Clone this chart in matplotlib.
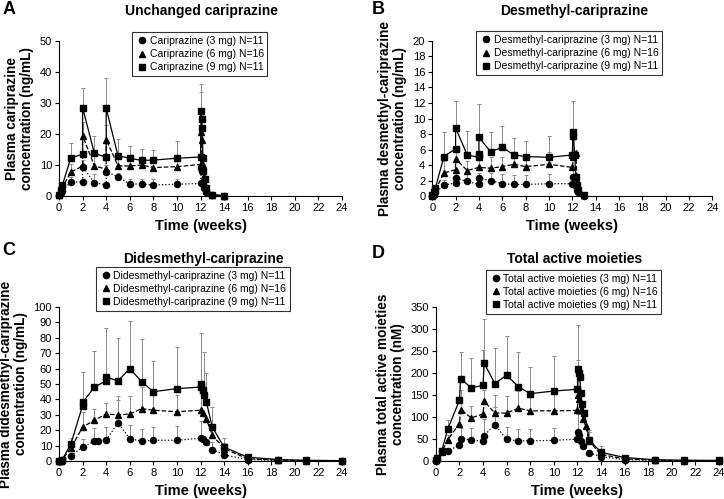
import numpy as np
import matplotlib
matplotlib.use('Agg')
from matplotlib import pyplot as plt
from matplotlib.lines import Line2D

plt.rcParams['font.family'] = ['Liberation Sans', 'DejaVu Sans']

# Panel A: unchanged cariprazine (ng/mL)
a_t9 = [0, 0.14, 0.28, 1, 2, 2, 3, 4, 4, 5, 6, 7, 8, 10, 12, 12.05, 12.1, 12.15, 12.2, 12.25, 12.4, 12.5, 13, 14]
a_y9 = [0.5, 2, 3.5, 12.3, 13.5, 28.5, 13.8, 12.5, 28.3, 13, 12.2, 11.5, 11.6, 12.2, 12.6, 27.5, 25, 22, 12.3, 8, 5.5, 2.5, 0.5, 0.1]
a_sd9 = [0, 0, 0, 4.9, 0, 6.3, 5.7, 0, 9.7, 5.5, 3.8, 3.8, 3.4, 5.6, 0, 8.5, 0, 0, 0, 0, 0, 0, 0, 0]
a_t6 = [0, 0.14, 0.28, 1, 2, 2, 3, 4, 4, 5, 6, 7, 8, 10, 12, 12.05, 12.1, 12.2, 12.3, 12.4, 12.5, 13, 14]
a_y6 = [0.3, 1.5, 2.8, 7.7, 9.7, 19.5, 9.7, 8.7, 18.2, 9.8, 9.7, 10, 9.2, 9.5, 10.2, 20.5, 18, 10, 6, 3.5, 1.8, 0.4, 0.1]
a_sd6 = [0, 0, 0, 2.8, 0, 4.5, 3.3, 0, 4.8, 2.7, 2.8, 2.5, 2.3, 2.5, 0, 13, 0, 0, 0, 0, 0, 0, 0]
a_t3 = [0, 0.14, 0.28, 1, 2, 2, 3, 4, 4, 5, 6, 7, 8, 10, 12, 12.05, 12.1, 12.2, 12.3, 12.5, 13, 14]
a_y3 = [0.2, 1, 1.8, 4.5, 4.6, 9.5, 4.3, 3.6, 7.9, 6.2, 3.9, 3.9, 3.6, 3.8, 4.1, 9, 8, 4, 2.5, 1.2, 0.3, 0.1]
a_sd3 = [0, 0, 0, 1.7, 0, 2, 2.7, 0, 2.1, 1.3, 1.6, 1.6, 1.9, 1.7, 0, 3, 0, 0, 0, 0, 0, 0]

# Panel B: desmethyl-cariprazine (ng/mL)
b_t9 = [0, 0.14, 0.28, 1, 2, 2, 3, 4, 4, 4, 5, 6, 7, 8, 10, 12, 12.05, 12.1, 12.2, 12.3, 12.4, 12.5, 13]
b_y9 = [0.1, 0.5, 1.1, 5.1, 6.1, 8.8, 5.3, 5.0, 5.4, 7.6, 5.7, 6.3, 5.3, 5.1, 5.0, 5.3, 8.3, 7.8, 5.3, 2.5, 1.4, 0.8, 0.1]
b_sd9 = [0, 0, 0, 3.1, 0, 3.4, 3.1, 0, 0, 4.3, 2.6, 2.7, 2.2, 2.0, 2.7, 0, 4.0, 0, 0, 0, 0, 0, 0]
b_t6 = [0, 0.14, 0.28, 1, 2, 2, 3, 4, 5, 6, 7, 8, 10, 12, 12.1, 12.3, 12.4, 12.5, 13]
b_y6 = [0.05, 0.3, 0.8, 3.0, 3.4, 4.8, 3.3, 3.7, 3.6, 3.8, 4.1, 3.8, 4.1, 3.7, 5.0, 5.5, 2.0, 0.8, 0.1]
b_sd6 = [0, 0, 0, 1.5, 0, 1.4, 1.2, 1.3, 1.4, 1.2, 1.2, 1.2, 1.6, 0, 2.2, 0, 0, 0, 0]
b_t3 = [0, 0.14, 0.28, 1, 2, 2, 3, 4, 4, 5, 6, 7, 8, 10, 12, 12.1, 12.3, 12.4, 12.5, 13]
b_y3 = [0.02, 0.15, 0.5, 1.4, 1.7, 2.3, 1.9, 1.5, 2.3, 2.0, 1.6, 1.5, 1.5, 1.6, 1.6, 2.4, 1.3, 0.8, 0.5, 0.05]
b_sd3 = [0, 0, 0, 0.7, 0, 1.2, 0.9, 0, 0.7, 1.0, 1.2, 1.2, 1.2, 1.2, 0, 1.0, 0, 0, 0, 0]

# Panel C: didesmethyl-cariprazine (ng/mL)
c_t9 = [0, 0.14, 0.28, 1, 2, 2, 3, 4, 4, 5, 6, 7, 8, 10, 12, 12.05, 12.2, 12.3, 12.5, 13, 14, 16, 18.6, 20.9, 24]
c_y9 = [0, 0.3, 1, 11, 36, 38, 48, 52, 54.5, 52, 60, 51.5, 45, 47, 48, 50, 46, 43, 38, 22, 9, 2.5, 1, 0.5, 0.3]
c_sd9 = [0, 0, 0, 4, 0, 19.5, 23.5, 0, 31.5, 28, 31, 27.5, 20, 27, 0, 33, 0, 28, 19, 13, 6, 1.5, 0, 0, 0]
c_t6 = [0, 0.14, 0.28, 1, 2, 3, 4, 5, 6, 7, 8, 10, 12, 12.2, 12.5, 13, 14, 16, 18.6, 20.9, 24]
c_y6 = [0, 0.2, 0.8, 8.5, 22, 26.5, 30.5, 30, 30.5, 34, 33, 32, 33, 31, 27, 17, 8, 1.5, 0.6, 0.3, 0.2]
c_sd6 = [0, 0, 0, 3, 10, 7.5, 7, 12, 12, 14, 10, 11, 11, 0, 0, 6, 4, 1, 0, 0, 0]
c_t3 = [0, 0.14, 0.28, 1, 2, 3, 3.3, 4, 5, 6, 7, 8, 10, 12, 12.2, 12.5, 13, 14, 16, 18.6, 20.9, 24]
c_y3 = [0, 0.1, 0.4, 3.5, 9, 13, 13, 13.5, 25, 14.5, 13, 13.5, 13.5, 14.8, 14, 12.5, 7.5, 4, 1, 0.4, 0.2, 0.1]
c_sd3 = [0, 0, 0, 1.5, 5, 8.5, 0, 8.5, 14.5, 9, 8, 8.5, 9, 11, 0, 0, 5, 2.5, 0.5, 0, 0, 0]

# Panel D: total active moieties (nM)
d_t9 = [0, 0.14, 0.5, 1, 2, 2.1, 3, 4, 4.1, 5, 6, 7, 8, 10, 12, 12.05, 12.1, 12.2, 12.3, 12.4, 12.6, 13, 14, 16, 18.6, 21, 24]
d_y9 = [2, 8, 23, 72, 138, 187, 166, 172, 222, 176, 195, 169, 153, 159, 163, 210, 200, 190, 155, 130, 110, 48, 20, 8, 3, 2, 1.5]
d_sd9 = [0, 0, 0, 21, 0, 60, 68, 81, 101, 81, 88, 78, 60, 79, 0, 98, 0, 0, 0, 0, 0, 22, 15, 0, 0, 0, 0]
d_t6 = [0, 0.14, 0.5, 1, 2, 2.1, 3, 4, 4.1, 5, 6, 7, 8, 10, 12, 12.05, 12.1, 12.3, 12.5, 12.7, 13, 14, 16, 18.6, 21, 24]
d_y6 = [1.5, 6, 20, 48, 85, 117, 98, 107, 136, 109, 109, 120, 114, 114, 115, 150, 140, 115, 95, 80, 45, 15, 5, 2, 1, 1]
d_sd6 = [0, 0, 0, 12, 0, 45, 27, 0, 26, 40, 38, 40, 38, 38, 0, 80, 0, 0, 0, 0, 20, 10, 0, 0, 0, 0]
d_t3 = [0, 0.14, 0.5, 1, 2, 2.1, 3, 4, 4.1, 5, 6, 7, 8, 10, 12, 12.05, 12.1, 12.3, 12.5, 13, 14, 16, 18.6, 21, 24]
d_y3 = [1, 5, 22, 22, 37, 51, 48, 45, 58, 83, 49, 46, 46, 47, 50, 66, 60, 45, 35, 19, 10, 3, 1.5, 1, 0.5]
d_sd3 = [0, 0, 0, 8, 0, 25, 28, 0, 37, 40, 29, 26, 27, 28, 0, 40, 0, 0, 0, 0, 5, 0, 0, 0, 0]

doses = ['3 mg', '6 mg', '9 mg']
n_subj = [11, 16, 11]
markers = ['o', '^', 's']
linestyles = [':', '--', '-']

panels = [
    ('A', 'Unchanged cariprazine', 'Cariprazine', 'Plasma cariprazine\nconcentration (ng/mL)', 50, 10,
     [(a_t3, a_y3, a_sd3), (a_t6, a_y6, a_sd6), (a_t9, a_y9, a_sd9)]),
    ('B', 'Desmethyl-cariprazine', 'Desmethyl-cariprazine', 'Plasma desmethyl-cariprazine\nconcentration (ng/mL)', 20, 2,
     [(b_t3, b_y3, b_sd3), (b_t6, b_y6, b_sd6), (b_t9, b_y9, b_sd9)]),
    ('C', 'Didesmethyl-cariprazine', 'Didesmethyl-cariprazine', 'Plasma didesmethyl-cariprazine\nconcentration (ng/mL)', 100, 10,
     [(c_t3, c_y3, c_sd3), (c_t6, c_y6, c_sd6), (c_t9, c_y9, c_sd9)]),
    ('D', 'Total active moieties', 'Total active moieties', 'Plasma total active moieties\nconcentration (nM)', 350, 50,
     [(d_t3, d_y3, d_sd3), (d_t6, d_y6, d_sd6), (d_t9, d_y9, d_sd9)]),
]

# axes rectangles [left, bottom, width, height], legend boxes, titles and letters (fig coords)
ax_pos = [[0.0815, 0.607, 0.391, 0.311], [0.597, 0.607, 0.387, 0.311],
          [0.0815, 0.076, 0.391, 0.309], [0.602, 0.076, 0.391, 0.309]]
leg_pos = [(0.183, 0.935), (0.658, 0.937), (0.133, 0.465), (0.671, 0.459)]
title_pos = [(0.279, 0.977), (0.793, 0.977), (0.281, 0.481), (0.793, 0.481)]
letter_pos = [(0.003, 0.981), (0.514, 0.981), (0.003, 0.497), (0.514, 0.491)]

fig = plt.figure(figsize=(7.24, 4.99), dpi=100)

for k, (letter, title, name, ylab, ytop, ystep, series) in enumerate(panels):
    ax = fig.add_axes(ax_pos[k])
    for i, (t, y, sd) in enumerate(series):
        t = np.array(t)
        y = np.array(y)
        sd = np.array(sd)
        m = sd > 0
        ax.errorbar(t[m], y[m], yerr=[np.zeros(m.sum()), sd[m]], fmt='none',
                    ecolor='#8a8a8a', elinewidth=0.7, capsize=1.5, capthick=0.7, zorder=2)
        ax.plot(t, y, color='black', linestyle=linestyles[i], linewidth=0.9,
                marker=markers[i], markersize=4.4 if i < 2 else 4.7, zorder=3, clip_on=False)
    ax.set_xlim(0, 24)
    ax.set_ylim(0, ytop)
    ax.set_xticks(np.arange(0, 25, 2))
    ax.set_yticks(np.arange(0, ytop + ystep / 2, ystep))
    ax.spines['top'].set_visible(False)
    ax.spines['right'].set_visible(False)
    ax.spines['left'].set_linewidth(0.8)
    ax.spines['bottom'].set_linewidth(0.8)
    ax.tick_params(labelsize=8, length=3, width=0.8, pad=2)
    ax.set_xlabel('Time (weeks)', fontsize=10.5, fontweight='bold', labelpad=4)
    ax.set_ylabel(ylab, fontsize=9.8, fontweight='bold', labelpad=4, linespacing=1.1)
    fig.text(title_pos[k][0], title_pos[k][1], title, ha='center', va='center', fontsize=10, fontweight='bold')
    fig.text(letter_pos[k][0], letter_pos[k][1], letter, ha='left', va='center', fontsize=13, fontweight='bold')

    handles = [Line2D([], [], color='black', marker=markers[i], linestyle='none', markersize=4.5)
               for i in range(3)]
    labels = ['%s (%s) N=%d' % (name, doses[i], n_subj[i]) for i in range(3)]
    leg = ax.legend(handles, labels, loc='upper left', bbox_to_anchor=leg_pos[k],
                    bbox_transform=fig.transFigure, fontsize=7.5, frameon=True, fancybox=False,
                    handletextpad=0.1, handlelength=1.2, borderpad=0.35, labelspacing=0.3,
                    borderaxespad=0)
    leg.get_frame().set_edgecolor('black')
    leg.get_frame().set_linewidth(0.8)

fig.savefig('out.png', dpi=100)
